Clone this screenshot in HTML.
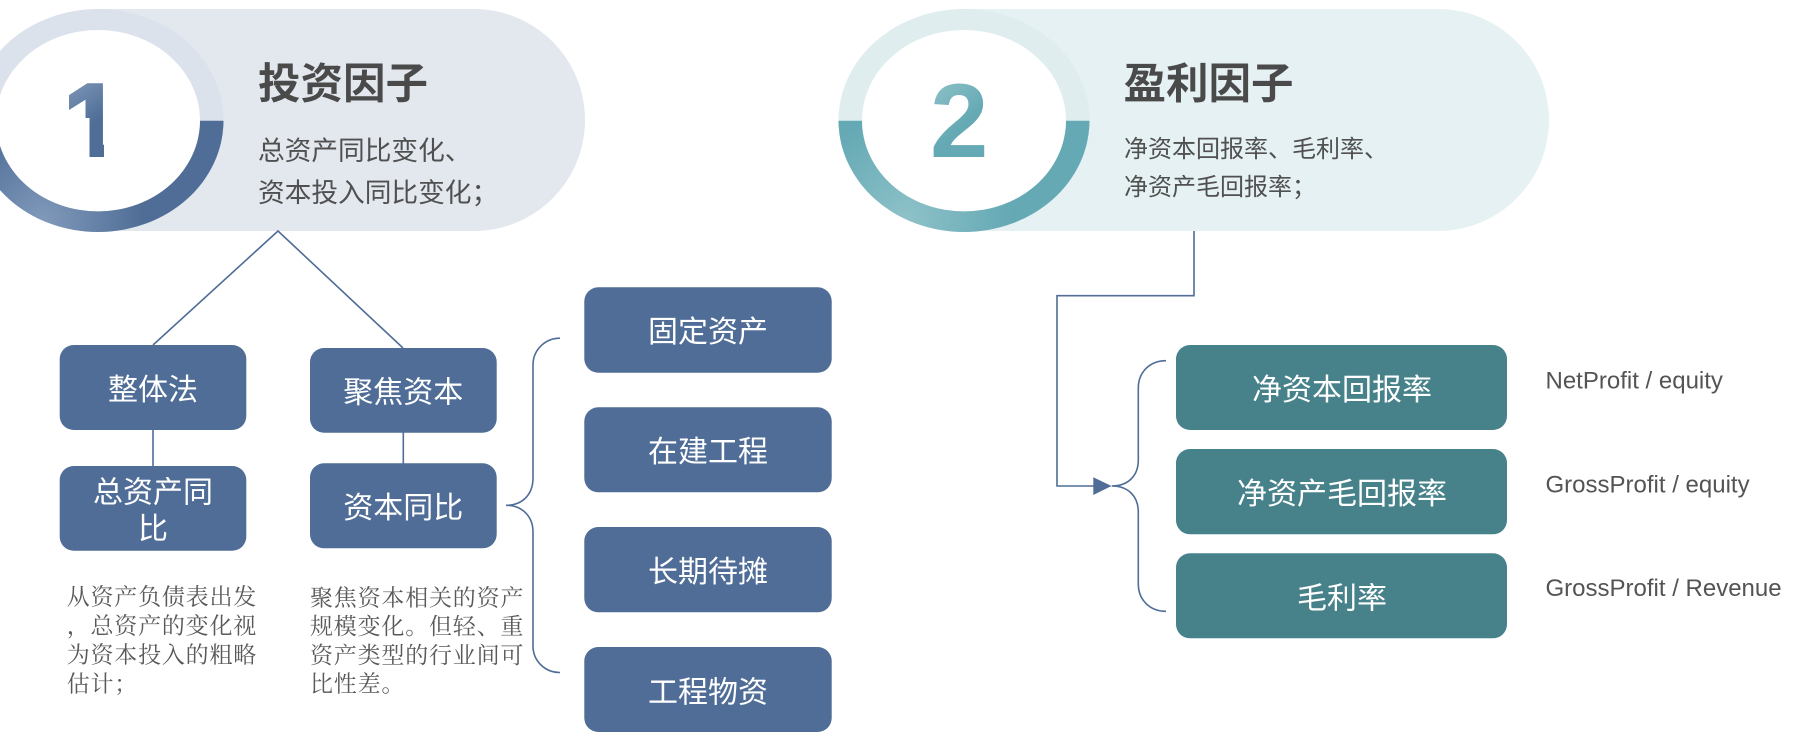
<!DOCTYPE html>
<html lang="zh">
<head>
<meta charset="utf-8">
<title>投资因子与盈利因子</title>
<style>
html,body{margin:0;padding:0;background:#fff;width:1815px;height:735px;overflow:hidden}
svg{display:block}
text{font-family:"Liberation Sans","Noto Sans CJK SC",sans-serif}
.box{font-size:30px;fill:#fff;text-anchor:middle}
.title{font-size:42.5px;font-weight:700;fill:#4a4a4a}
.sub1{font-size:26.7px;fill:#505050}
.sub2{font-size:24px;fill:#505050}
.para{font-family:"Liberation Serif","Noto Serif CJK SC",serif;font-size:23px;fill:#595959;letter-spacing:.8px}
.latin{font-size:24px;fill:#545454}
.line{fill:none;stroke:#4f6d96;stroke-width:1.6}
</style>
</head>
<body>
<svg xmlns="http://www.w3.org/2000/svg" width="1815" height="735" viewBox="0 0 1815 735">
<defs>
<radialGradient id="g1" gradientUnits="userSpaceOnUse" cx="43" cy="222" r="100">
<stop offset="0" stop-color="#819abb"/><stop offset="1" stop-color="#4f6d96"/>
</radialGradient>
<radialGradient id="g2" gradientUnits="userSpaceOnUse" cx="907" cy="218" r="105">
<stop offset="0" stop-color="#8ec1c8"/><stop offset="1" stop-color="#64a9b4"/>
</radialGradient>
<linearGradient id="t1" gradientUnits="userSpaceOnUse" x1="70" y1="80" x2="98" y2="120">
<stop offset="0" stop-color="#7e98b8"/><stop offset="1" stop-color="#4f6d96"/>
</linearGradient>
<linearGradient id="t2" gradientUnits="userSpaceOnUse" x1="935" y1="80" x2="970" y2="120">
<stop offset="0" stop-color="#8ec1c8"/><stop offset="1" stop-color="#64a9b4"/>
</linearGradient>
<clipPath id="c1"><rect x="-40" y="120.7" width="300" height="120"/></clipPath>
<clipPath id="c2"><rect x="830" y="120.7" width="270" height="120"/></clipPath>
<clipPath id="foot"><polygon points="69,79 104,79 104,157 89.5,157 89.5,118 69,118"/></clipPath>
</defs>

<!-- Pill 1 -->
<path d="M98 9H474A111 111 0 0 1 474 231H98Z" fill="#e3e8ef"/>
<ellipse cx="98" cy="120.5" rx="125.5" ry="111.5" fill="#dbe2ec"/>
<ellipse cx="98" cy="120.5" rx="125.5" ry="111.5" fill="url(#g1)" clip-path="url(#c1)"/>
<ellipse cx="98" cy="120.7" rx="102" ry="90.7" fill="#fff"/>
<g clip-path="url(#foot)"><text x="62.5" y="157" font-size="105" font-weight="700" fill="url(#t1)" stroke="url(#t1)" stroke-width="3">1</text></g>
<text class="title" x="258" y="98.7">投资因子</text>
<text class="sub1" x="258" y="160">总资产同比变化、</text>
<text class="sub1" x="258" y="202">资本投入同比变化；</text>

<!-- Pill 2 -->
<path d="M964 9H1438A111 111 0 0 1 1438 231H964Z" fill="#e5f1f2"/>
<ellipse cx="964" cy="120.5" rx="125.5" ry="111.5" fill="#dfedef"/>
<ellipse cx="964" cy="120.5" rx="125.5" ry="111.5" fill="url(#g2)" clip-path="url(#c2)"/>
<ellipse cx="964" cy="120.7" rx="102" ry="90.7" fill="#fff"/>
<text x="930" y="157" font-size="105" font-weight="700" fill="url(#t2)">2</text>
<text class="title" x="1123.5" y="98.7">盈利因子</text>
<text class="sub2" x="1124" y="157">净资本回报率、毛利率、</text>
<text class="sub2" x="1124" y="195">净资产毛回报率；</text>

<!-- Connectors, left -->
<path class="line" d="M153 345L278 231L403 348"/>
<path class="line" d="M153 430V466"/>
<path class="line" d="M403.3 432V464"/>
<path class="line" d="M560 338.2C545 338.2 533 350 533 365V478C533 495 522 505.3 506 505.3C522 505.3 533 516 533 532V646C533 661 545 672.5 560 672.5"/>

<!-- Connectors, right -->
<path class="line" d="M1194 231V295.7H1057V486H1095"/>
<polygon points="1093.3,477.3 1111.5,486 1093.3,495" fill="#4f6d96"/>
<path class="line" d="M1166 360.7C1150 360.7 1138.3 372 1138.3 388V460C1138.3 476 1128 486 1111.7 486C1128 486 1138.3 496 1138.3 512V584C1138.3 600 1150 611.3 1166 611.3"/>

<!-- Left boxes -->
<g fill="#4f6d96">
<rect x="59.7" y="345" width="186.6" height="85" rx="14"/>
<rect x="59.7" y="466" width="186.6" height="84.7" rx="14"/>
<rect x="310" y="348" width="186.7" height="84.7" rx="14"/>
<rect x="310" y="463.3" width="186.7" height="85" rx="14"/>
<rect x="584.3" y="287.3" width="247.4" height="85.4" rx="14"/>
<rect x="584.3" y="407.3" width="247.4" height="85" rx="14"/>
<rect x="584.3" y="527" width="247.4" height="85.3" rx="14"/>
<rect x="584.3" y="647" width="247.4" height="85" rx="14"/>
</g>
<text class="box" x="153" y="400">整体法</text>
<text class="box" x="153" y="502.7">总资产同</text>
<text class="box" x="153" y="539">比</text>
<text class="box" x="403.3" y="402.6">聚焦资本</text>
<text class="box" x="403.3" y="518">资本同比</text>
<text class="box" x="708" y="342">固定资产</text>
<text class="box" x="708" y="462">在建工程</text>
<text class="box" x="708" y="582">长期待摊</text>
<text class="box" x="708" y="702.5">工程物资</text>

<!-- Paragraphs -->
<text class="para" x="66.7" y="604.5">从资产负债表出发</text>
<text class="para" x="66.7" y="633.5">，总资产的变化视</text>
<text class="para" x="66.7" y="662.5">为资本投入的粗略</text>
<text class="para" x="66.7" y="691.5">估计；</text>
<text class="para" x="310" y="605.5">聚焦资本相关的资产</text>
<text class="para" x="310" y="634">规模变化。但轻、重</text>
<text class="para" x="310" y="663">资产类型的行业间可</text>
<text class="para" x="310" y="691.5">比性差。</text>

<!-- Teal boxes -->
<g fill="#47828b">
<rect x="1176" y="345" width="331" height="85" rx="14"/>
<rect x="1176" y="449" width="331" height="85.3" rx="14"/>
<rect x="1176" y="553.3" width="331" height="85" rx="14"/>
</g>
<text class="box" x="1342" y="400">净资本回报率</text>
<text class="box" x="1342" y="504">净资产毛回报率</text>
<text class="box" x="1342" y="608.5">毛利率</text>

<text class="latin" x="1545.5" y="388.3">NetProfit / equity</text>
<text class="latin" x="1545.5" y="492.3">GrossProfit / equity</text>
<text class="latin" x="1545.5" y="596">GrossProfit / Revenue</text>
</svg>
</body>
</html>
